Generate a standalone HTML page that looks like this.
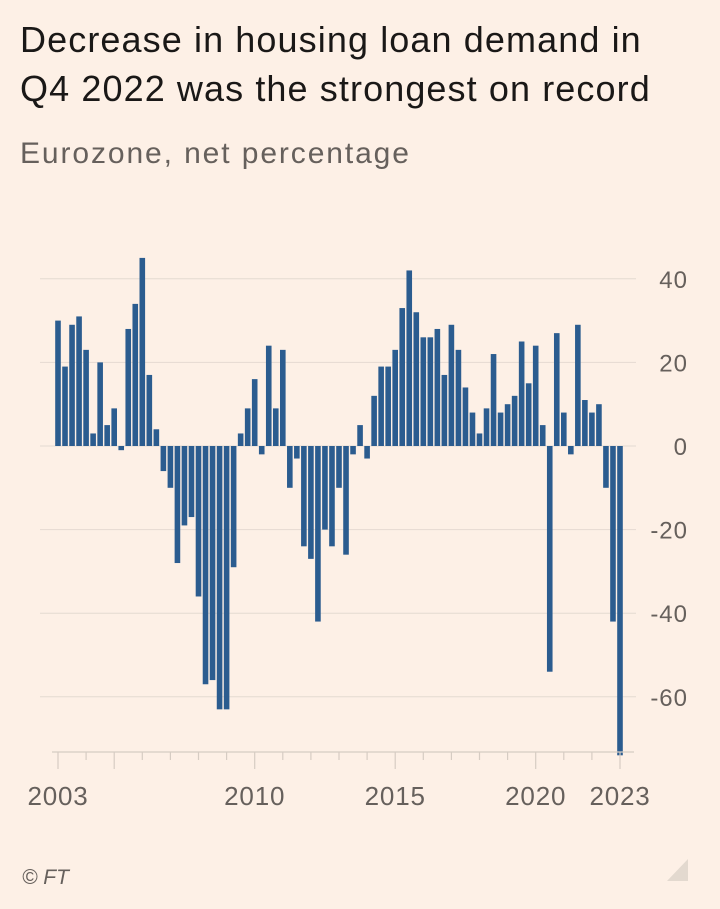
<!DOCTYPE html>
<html><head><meta charset="utf-8">
<style>
html,body{margin:0;padding:0;background:#fdf0e6;}
body{width:720px;height:909px;position:relative;overflow:hidden;font-family:"Liberation Sans",sans-serif;}
.title{position:absolute;left:20px;top:15px;font-size:36px;line-height:49px;color:#1a1817;letter-spacing:1.1px;}
.sub{position:absolute;left:20px;top:137px;font-size:30px;color:#66605c;letter-spacing:1.9px;}
.src{position:absolute;left:22px;top:866px;font-size:21px;font-style:italic;color:#66605c;}
svg{position:absolute;left:0;top:0;}
</style></head><body>
<div class="title">Decrease in housing loan demand in<br>Q4 2022 was the strongest on record</div>
<div class="sub">Eurozone, net percentage</div>
<div class="src">© FT</div>
<svg id="chart" width="720" height="909">
<polygon points="688,859 688,881 667,881" fill="#e3d9cf"/>
</svg>
<script>
const values = [30,19,29,31,23,3,20,5,9,-1,28,34,45,17,4,-6,-10,-28,-19,-17,-36,-57,-56,-63,-63,-29,3,9,16,-2,24,9,23,-10,-3,-24,-27,-42,-20,-24,-10,-26,-2,5,-3,12,19,19,23,33,42,32,26,26,28,17,29,23,14,8,3,9,22,8,10,12,25,15,24,5,-54,27,8,-2,29,11,8,10,-10,-42,-74];
const startYear = 2003;
const yTicks = [40,20,0,-20,-40,-60];
const xLabels = [2003,2010,2015,2020,2023];
const majorYears = [2003,2005,2010,2015,2020,2023];

const NS="http://www.w3.org/2000/svg";
const svg=document.getElementById('chart');
const x0=58, yearW=28.1;
const xq=i=>x0+i*yearW/4;
const xy=yr=>x0+(yr-startYear)*yearW;
const y=v=>446-v*4.18;
function mk(t,a){const e=document.createElementNS(NS,t);for(const k in a)e.setAttribute(k,a[k]);svg.appendChild(e);return e;}
yTicks.forEach(t=>{
  const l=mk('line',{x1:40,x2:636,y1:y(t),y2:y(t),stroke:'#e4dad1','stroke-width':1});
  
  
  const tx=mk('text',{x:688,y:y(t)+9,'text-anchor':'end','font-size':24,'letter-spacing':1,fill:'#66605c','font-family':'Liberation Sans, sans-serif'});
  tx.textContent=t;
  
  
});
values.forEach((v,i)=>{
  const r=mk('rect',{x:xq(i)-2.8,width:5.6,y:Math.min(y(v),y(0)),height:Math.abs(y(v)-y(0)),fill:'#2b5c8f'});
  
  
});
const ax=mk('line',{x1:52,x2:634,y1:752,y2:752,stroke:'#d6ccc3','stroke-width':1.2});


for(let yr=2003;yr<=2023;yr++){
  const maj=majorYears.includes(yr);
  const t=mk('line',{x1:xy(yr),x2:xy(yr),y1:752,y2:maj?769:760,stroke:'#d6ccc3','stroke-width':1.2});
  
  
}
xLabels.forEach(yr=>{
  const tx=mk('text',{x:xy(yr),y:805,'text-anchor':'middle','font-size':26,'letter-spacing':0.8,fill:'#66605c','font-family':'Liberation Sans, sans-serif'});
  tx.textContent=yr;
  
  
});
</script>
</body></html>
